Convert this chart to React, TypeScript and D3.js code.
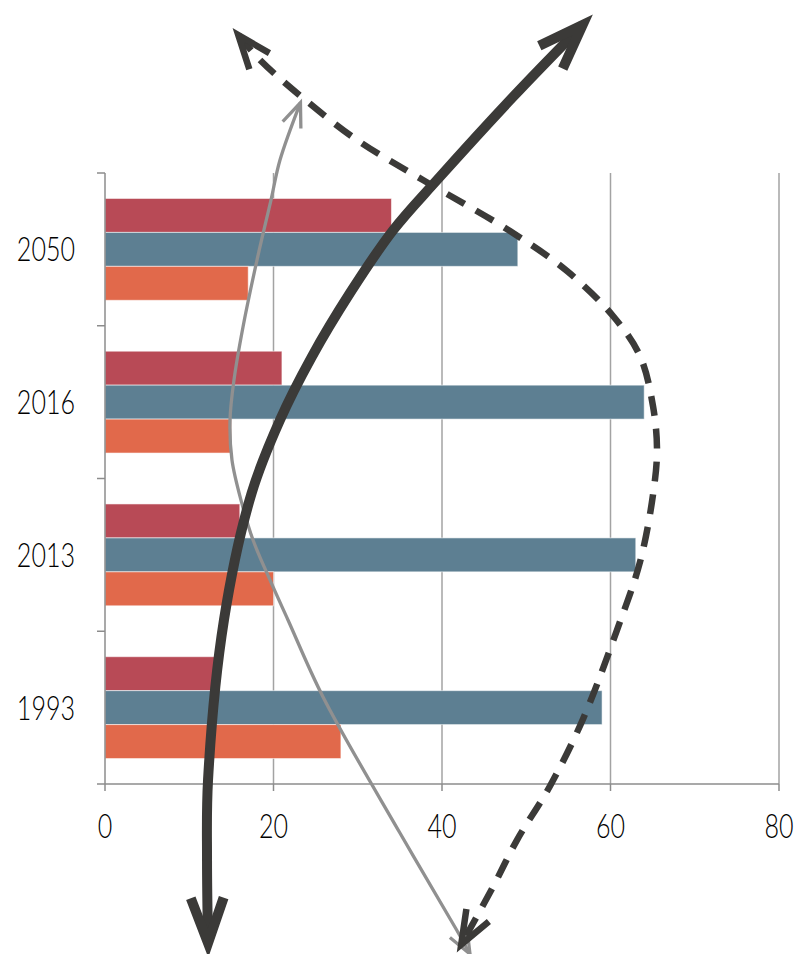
import React from 'react';
import * as d3 from 'd3';

// ---- data ----
const categories = ['2050', '2016', '2013', '1993'];
const seriesKeys = ['s1', 's2', 's3'];
const s1Values = [34, 21, 16, 13];
const s2Values = [49, 64, 63, 59];
const s3Values = [17, 15, 20, 28];
const xTicks = [0, 20, 40, 60, 80];
const seriesColors = ['#B84A56', '#5D7F92', '#E1694B'];

// decorative arrows, in chart units: [value, category position (0 = axis, 4 = top)]
const blackArrow: [number, number][] = [
  [12.23, -1.041], [12.11, -0.498], [12.23, 0.026], [14.12, 1.074], [17.41, 1.905],
  [20.77, 2.383], [24.53, 2.795], [29.08, 3.214], [34.22, 3.627], [39.41, 3.954],
  [48.43, 4.498], [56.69, 4.969],
];
const grayArrow: [number, number][] = [
  [23.2, 4.461], [20.77, 4.085], [19.7, 3.823], [18.04, 3.43], [16.38, 2.992],
  [15.31, 2.645], [14.84, 2.383], [15.07, 2.121], [16.23, 1.84], [17.57, 1.597],
  [19.58, 1.336], [21.72, 1.074], [25.88, 0.57], [35.01, -0.321], [41.74, -0.956],
  [43.32, -1.113],
];
const dashedArrow: [number, number][] = [
  [15.82, 4.903], [18.4, 4.74], [23.5, 4.491], [29.91, 4.216], [37.74, 3.954],
  [48.07, 3.62], [54.84, 3.358], [60.3, 3.064], [63.5, 2.802], [65.04, 2.475],
  [65.52, 2.187], [65.04, 1.892], [63.5, 1.453], [60.77, 1.008], [56.74, 0.426],
  [52.82, -0.013], [48.9, -0.367], [46.05, -0.674], [42.28, -1.051],
];

const W = 799;
const H = 954;
const FONT = "Lato, 'Open Sans', 'DejaVu Sans Condensed', sans-serif";
const SX = 0.76; // horizontal condensing of the label font

function headPath(L: number, deg: number) {
  const a = (deg * Math.PI) / 180;
  const dx = -L * Math.cos(a);
  const dy = L * Math.sin(a);
  return `M${dx},${-dy} L0,0 L${dx},${dy}`;
}

export default function App() {
  const x = d3.scaleLinear().domain([0, 80]).range([105, 779]);
  const y = d3
    .scaleBand<string>()
    .domain(categories)
    .range([173, 784])
    .paddingInner(1 / 3)
    .paddingOuter(1 / 6);
  const inner = d3.scaleBand<string>().domain(seriesKeys).range([0, y.bandwidth()]);
  const yPos = d3.scaleLinear().domain([0, 4]).range([784, 173]);
  const allSeries = [s1Values, s2Values, s3Values];

  const line = d3
    .line<[number, number]>()
    .x((d) => x(d[0]))
    .y((d) => yPos(d[1]))
    .curve(d3.curveCatmullRom.alpha(0.5));

  const yTickPos = d3.range(categories.length + 1).map((i) => yPos(i));
  const axisColor = '#8c8c8c';
  const gridColor = '#a3a3a3';

  return (
    <svg
      width={W}
      height={H}
      style={{ position: 'absolute', left: 0, top: 0, background: '#fff' }}
    >
      <defs>
        <marker id="hBlack" markerUnits="userSpaceOnUse" orient="auto-start-reverse"
          refX={0} refY={0} markerWidth={1} markerHeight={1} style={{ overflow: 'visible' }}>
          <path d={headPath(48, 20)} fill="none" stroke="#3b3a38" strokeWidth={10}
            strokeLinejoin="miter" strokeMiterlimit={10} />
        </marker>
        <marker id="hDash" markerUnits="userSpaceOnUse" orient="auto-start-reverse"
          refX={0} refY={0} markerWidth={1} markerHeight={1} style={{ overflow: 'visible' }}>
          <path d={headPath(36, 21)} fill="none" stroke="#3b3a38" strokeWidth={6.5}
            strokeLinejoin="miter" strokeMiterlimit={10} />
        </marker>
        <marker id="hGray" markerUnits="userSpaceOnUse" orient="auto-start-reverse"
          refX={0} refY={0} markerWidth={1} markerHeight={1} style={{ overflow: 'visible' }}>
          <path d={headPath(26, 22)} fill="none" stroke="#909090" strokeWidth={3.3}
            strokeLinejoin="miter" strokeMiterlimit={10} />
        </marker>
      </defs>

      {/* gridlines */}
      {xTicks.filter((t) => t > 0).map((t) => (
        <line key={'g' + t} x1={x(t)} x2={x(t)} y1={173} y2={784} stroke={gridColor} strokeWidth={1.5} />
      ))}

      {/* bars */}
      {categories.map((c, ci) => (
        <g key={c} transform={`translate(0,${y(c)})`}>
          {seriesKeys.map((k, si) => (
            <rect
              key={k}
              x={x(0)}
              y={inner(k)}
              width={x(allSeries[si][ci]) - x(0)}
              height={inner.bandwidth()}
              fill={seriesColors[si]}
              stroke="rgba(255,255,255,0.55)"
              strokeWidth={1}
            />
          ))}
        </g>
      ))}

      {/* y axis */}
      <line x1={x(0)} x2={x(0)} y1={173} y2={784} stroke={axisColor} strokeWidth={1.5} />
      {yTickPos.map((p, i) => (
        <line key={'yt' + i} x1={x(0) - 8} x2={x(0)} y1={p} y2={p} stroke={axisColor} strokeWidth={1.5} />
      ))}
      {/* x axis */}
      <line x1={x(0)} x2={x(80)} y1={784} y2={784} stroke={axisColor} strokeWidth={1.5} />
      {xTicks.map((t) => (
        <line key={'xt' + t} x1={x(t)} x2={x(t)} y1={784} y2={791} stroke={axisColor} strokeWidth={1.5} />
      ))}

      {/* labels */}
      {categories.map((c) => (
        <text key={'yl' + c}
          transform={`translate(75,${(y(c) as number) + y.bandwidth() / 2 + 12}) scale(${SX},1)`}
          textAnchor="end" fontFamily={FONT} fontWeight={300} fontSize={33} fill="#000">
          {c}
        </text>
      ))}
      {xTicks.map((t) => (
        <text key={'xl' + t} transform={`translate(${x(t)},838) scale(${SX},1)`}
          textAnchor="middle" fontFamily={FONT} fontWeight={300} fontSize={33} fill="#000">
          {t}
        </text>
      ))}

      {/* decorative arrows */}
      <path d={line(grayArrow) || ''} fill="none" stroke="#909090" strokeWidth={3.3}
        markerStart="url(#hGray)" markerEnd="url(#hGray)" />
      <path d={line(blackArrow) || ''} fill="none" stroke="#3b3a38" strokeWidth={10}
        markerStart="url(#hBlack)" markerEnd="url(#hBlack)" />
      <path d={line(dashedArrow) || ''} fill="none" stroke="#3b3a38" strokeWidth={6.5}
        strokeDasharray="20 13" markerStart="url(#hDash)" markerEnd="url(#hDash)" />
    </svg>
  );
}
